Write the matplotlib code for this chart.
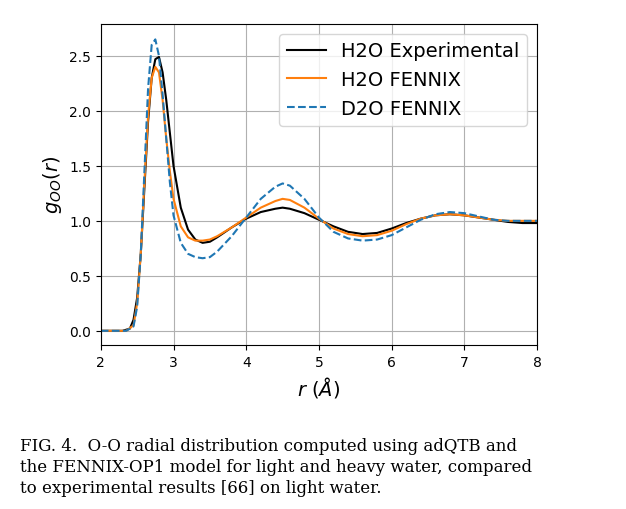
import matplotlib
matplotlib.use("Agg")
import matplotlib.pyplot as plt

# O-O radial distribution
r_exp = [2.0, 2.3, 2.4, 2.45, 2.5, 2.55, 2.6, 2.65, 2.7, 2.75, 2.8, 2.85, 2.9, 2.95, 3.0, 3.1, 3.2, 3.3, 3.4,
         3.5, 3.6, 3.8, 4.0, 4.2, 4.4, 4.5, 4.6, 4.8, 5.0, 5.2, 5.4, 5.6, 5.8, 6.0, 6.2, 6.4, 6.6, 6.8, 7.0,
         7.2, 7.4, 7.6, 7.8, 8.0]
g_exp = [0.0, 0.0, 0.02, 0.1, 0.3, 0.7, 1.3, 1.9, 2.3, 2.47, 2.49, 2.35, 2.1, 1.8, 1.5, 1.12, 0.92, 0.83, 0.8,
         0.81, 0.85, 0.94, 1.02, 1.08, 1.11, 1.12, 1.11, 1.07, 1.01, 0.95, 0.9, 0.88, 0.89, 0.93, 0.98, 1.02,
         1.05, 1.06, 1.05, 1.03, 1.01, 0.99, 0.98, 0.98]

r_h2o = [2.0, 2.35, 2.45, 2.5, 2.55, 2.6, 2.65, 2.7, 2.75, 2.8, 2.85, 2.9, 2.95, 3.0, 3.1, 3.2, 3.3, 3.4,
         3.5, 3.6, 3.8, 4.0, 4.2, 4.4, 4.5, 4.6, 4.8, 5.0, 5.2, 5.4, 5.6, 5.8, 6.0, 6.2, 6.4, 6.6, 6.8, 7.0,
         7.2, 7.4, 7.6, 7.8, 8.0]
g_h2o = [0.0, 0.0, 0.05, 0.25, 0.7, 1.35, 1.95, 2.3, 2.4, 2.35, 2.1, 1.75, 1.45, 1.2, 0.95, 0.85, 0.82, 0.82,
         0.83, 0.86, 0.94, 1.03, 1.12, 1.18, 1.2, 1.19, 1.12, 1.02, 0.93, 0.88, 0.86, 0.87, 0.91, 0.97, 1.02,
         1.05, 1.06, 1.05, 1.03, 1.01, 1.0, 1.0, 1.0]

r_d2o = [2.0, 2.35, 2.45, 2.5, 2.55, 2.6, 2.65, 2.7, 2.75, 2.8, 2.85, 2.9, 2.95, 3.0, 3.1, 3.2, 3.3, 3.4,
         3.5, 3.6, 3.8, 4.0, 4.2, 4.4, 4.5, 4.6, 4.8, 5.0, 5.2, 5.4, 5.6, 5.8, 6.0, 6.2, 6.4, 6.6, 6.8, 7.0,
         7.2, 7.4, 7.6, 7.8, 8.0]
g_d2o = [0.0, 0.0, 0.04, 0.22, 0.7, 1.45, 2.2, 2.6, 2.65, 2.5, 2.15, 1.75, 1.35, 1.05, 0.8, 0.7, 0.67, 0.66,
         0.67, 0.72, 0.86, 1.03, 1.2, 1.31, 1.34, 1.32, 1.2, 1.03, 0.9, 0.84, 0.82, 0.83, 0.87, 0.94, 1.01,
         1.06, 1.08, 1.07, 1.04, 1.01, 1.0, 1.0, 1.0]

fig = plt.figure(figsize=(6.26, 5.10), dpi=100)
ax = fig.add_axes([0.161, 0.322, 0.697, 0.629])

ax.plot(r_exp, g_exp, color='black', lw=1.5, label='H2O Experimental')
ax.plot(r_h2o, g_h2o, color='#ff7f0e', lw=1.5, label='H2O FENNIX')
ax.plot(r_d2o, g_d2o, color='#1f77b4', lw=1.5, ls='--', label='D2O FENNIX')

ax.set_xlim(2, 8)
ax.set_ylim(-0.127, 2.79)
ax.set_yticks([0.0, 0.5, 1.0, 1.5, 2.0, 2.5])
ax.grid(True)
ax.tick_params(labelsize=10)
ax.set_xlabel(r'$r$ ($\AA$)', fontsize=14)
ax.set_ylabel(r'$g_{OO}(r)$', fontsize=14)
ax.legend(loc='upper right', fontsize=14)

fig.text(0.032, 0.025,
         "FIG. 4.  O-O radial distribution computed using adQTB and\n"
         "the FENNIX-OP1 model for light and heavy water, compared\n"
         "to experimental results [66] on light water.",
         family='DejaVu Serif', fontsize=12, linespacing=1.3, va='bottom')

fig.savefig('out.png', dpi=100)
